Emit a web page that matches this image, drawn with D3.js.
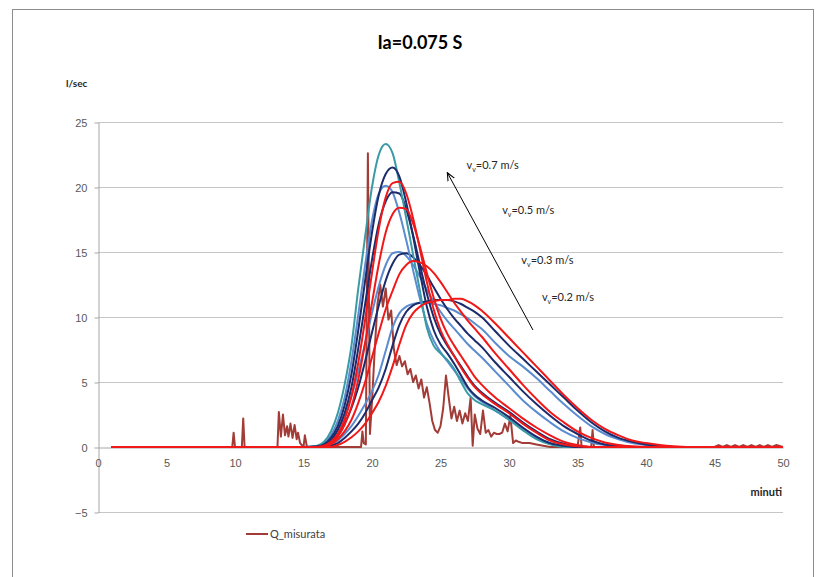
<!DOCTYPE html>
<html>
<head>
<meta charset="utf-8">
<script src="https://cdn.jsdelivr.net/npm/d3@7"></script>
<style>
  body { margin: 0; background: #fff; }
  svg { display: block; font-family: Lato, 'Open Sans', sans-serif; }
</style>
</head>
<body>
<div id="chart"></div>
<script>
const svgWidth = 821;
const svgHeight = 577;

// minutes shared by the simulated hydrographs
const minutes = [1, 15, 16, 16.5, 17, 17.5, 18, 18.5, 19, 19.5, 20, 20.5, 21, 21.5, 22, 22.5, 23, 23.5,
                 24, 24.5, 25, 25.5, 26, 26.5, 27, 27.5, 28, 29, 30, 31, 32, 33, 34, 35, 36, 37, 38,
                 39, 40, 41, 42, 43, 45, 50];

// vv = 0.7 m/s
const q07_teal = [0,0,0.1,0.4,1.2,2.6,4.8,7.8,12.2,16.2,20.0,22.5,23.3,22.6,20.3,17.6,14.8,12.0,9.2,7.8,7.2,6.7,6.0,5.0,4.1,3.6,3.3,2.8,2.1,1.3,0.6,0.2,0,0,0,0,0,0,0,0,0,0,0,0];
const q07_navy = [0,0,0.05,0.2,0.7,1.6,3.2,5.6,9.0,12.8,16.5,19.4,21.0,21.5,20.8,18.8,16.2,13.4,10.8,9.0,7.9,7.2,6.4,5.5,4.6,4.0,3.6,3.0,2.3,1.5,0.8,0.3,0.1,0,0,0,0,0,0,0,0,0,0,0];
const q07_red  = [0,0,0,0.1,0.4,1.0,2.1,3.9,6.5,9.8,13.4,16.8,19.2,20.3,20.4,19.5,17.6,15.2,12.7,10.6,9.0,7.9,7.0,6.1,5.3,4.6,4.1,3.3,2.6,1.8,1.1,0.5,0.2,0.05,0,0,0,0,0,0,0,0,0,0];
// vv = 0.5 m/s
const q05_blue = [0,0,0.05,0.3,0.9,2.0,3.8,6.6,10.2,14.0,17.4,19.5,20.1,19.6,18.0,15.9,13.6,11.4,9.5,8.2,7.3,6.6,5.9,5.2,4.5,3.9,3.5,2.8,2.1,1.4,0.7,0.3,0.1,0,0,0,0,0,0,0,0,0,0,0];
const q05_navy = [0,0,0,0.15,0.5,1.3,2.6,4.6,7.6,11.0,14.4,17.2,18.9,19.6,19.5,18.3,16.3,14.0,11.8,10.0,8.7,7.8,7.0,6.2,5.4,4.7,4.2,3.4,2.7,1.9,1.2,0.6,0.25,0.05,0,0,0,0,0,0,0,0,0,0];
const q05_red  = [0,0,0,0.05,0.3,0.8,1.7,3.1,5.2,8.0,11.1,14.1,16.5,17.9,18.4,18.3,17.2,15.4,13.4,11.5,9.9,8.7,7.8,7.0,6.2,5.4,4.8,3.8,3.0,2.2,1.5,0.9,0.4,0.15,0,0,0,0,0,0,0,0,0,0];
// vv = 0.3 m/s
const q03_blue = [0,0,0,0.2,0.6,1.3,2.4,3.9,5.8,8.0,10.3,12.4,14.0,14.9,15.0,14.7,14.0,13.1,12.1,11.2,10.4,9.7,9.1,8.5,7.9,7.4,6.9,5.8,4.7,3.6,2.7,1.9,1.2,0.7,0.35,0.15,0.05,0,0,0,0,0,0,0];
const q03_navy = [0,0,0,0.1,0.4,0.9,1.8,3.0,4.6,6.6,8.8,10.9,12.8,14.1,14.8,14.9,14.6,14.0,13.2,12.3,11.4,10.6,9.9,9.3,8.7,8.2,7.7,6.5,5.4,4.3,3.3,2.4,1.6,1.0,0.5,0.2,0.05,0,0,0,0,0,0,0];
const q03_red  = [0,0,0,0.05,0.2,0.6,1.2,2.1,3.4,5.0,6.9,8.8,10.6,12.0,13.3,14.0,14.3,14.2,13.9,13.4,12.7,11.9,11.1,10.4,9.7,9.1,8.5,7.2,6.0,4.8,3.7,2.7,1.9,1.2,0.7,0.35,0.15,0.05,0,0,0,0,0,0];
// vv = 0.2 m/s
const q02_blue = [0,0,0,0,0.2,0.5,1.0,1.6,2.4,3.3,4.3,5.6,7.4,9.2,10.3,10.8,11.0,11.1,11.1,11.0,10.9,10.7,10.5,10.2,9.9,9.5,9.1,8.0,7.0,6.2,5.3,4.3,3.3,2.4,1.6,1.0,0.6,0.3,0.15,0.05,0,0,0,0];
const q02_navy = [0,0,0,0,0.1,0.3,0.7,1.2,1.8,2.6,3.6,4.6,6.0,7.8,9.4,10.4,10.9,11.1,11.2,11.3,11.3,11.3,11.2,11.0,10.7,10.4,10.0,8.9,7.8,6.8,5.8,4.8,3.8,2.8,1.9,1.2,0.7,0.4,0.2,0.1,0,0,0,0];
const q02_red  = [0,0,0,0,0,0.15,0.4,0.75,1.2,1.8,2.6,3.5,4.7,6.2,7.9,9.4,10.3,10.8,11.1,11.2,11.3,11.3,11.4,11.4,11.2,10.9,10.5,9.5,8.4,7.3,6.2,5.1,4.0,3.0,2.1,1.4,0.9,0.5,0.3,0.15,0.05,0,0,0];

// measured discharge
const measT = [1, 9.8, 9.9, 10.0, 10.5, 10.6, 10.7, 13.1, 13.2, 13.35, 13.5, 13.65, 13.8, 13.9, 14.05, 14.2, 14.35, 14.5, 14.6, 14.75,
               15.0, 15.1, 15.25, 19.2, 19.3, 19.4, 19.55, 19.7, 19.85, 20.0, 20.2, 20.4, 20.6, 20.8, 21.0, 21.2, 21.4, 21.6, 21.8,
               22.0, 22.2, 22.4, 22.6, 22.8, 23.0, 23.2, 23.4, 23.6, 23.8, 24.0, 24.2, 24.4, 24.6, 24.8, 25.0, 25.2, 25.4, 25.6,
               25.8, 26.0, 26.2, 26.4, 26.6, 26.8, 27.0, 27.2, 27.35, 27.5, 27.7, 27.9, 28.1, 28.3, 28.5, 28.7, 28.9, 29.1, 29.3,
               29.5, 29.7, 29.9, 30.1, 30.3, 30.5, 30.7, 31.0, 31.5, 32.0, 32.5, 33.0, 35.0, 35.2, 35.3, 36.0, 36.1, 36.2,
               45.0, 45.3, 45.6, 45.9, 46.2, 46.5, 46.8, 47.1, 47.4, 47.7, 48.0, 48.3, 48.6, 48.9, 49.2, 49.5, 50];
const measQ = [0, 0, 1.1, 0, 0, 2.2, 0, 0, 2.7, 0.8, 2.5, 0.9, 1.6, 0.8, 1.8, 0.7, 1.7, 0.6, 1.1, 0.3,
               0, 0.9, 0, 0, 1.2, 0.3, 0.2, 22.6, 1.0, 3.5, 7.5, 11.0, 12.5, 10.8, 12.2, 9.8, 10.5, 7.5, 6.3,
               7.0, 6.2, 6.6, 5.6, 6.0, 5.0, 5.5, 4.5, 5.2, 3.8, 4.6, 3.4, 2.0, 1.3, 1.1, 1.6, 3.0, 5.5, 3.8,
               2.2, 3.1, 2.0, 2.8, 1.8, 2.6, 2.0, 3.8, 0.1, 2.5, 1.4, 1.0, 2.8, 1.1, 1.3, 0.8, 1.1, 1.0, 1.0,
               1.1, 1.8, 1.2, 2.4, 0.3, 0.5, 0.4, 0.3, 0.3, 0.2, 0.1, 0, 0, 1.5, 0, 0, 1.3, 0,
               0, 0.15, 0, 0.15, 0, 0.15, 0, 0.15, 0, 0.15, 0, 0.15, 0, 0.15, 0, 0.15, 0];

const yTicks = [-5, 0, 5, 10, 15, 20, 25];
const xTicks = [0, 5, 10, 15, 20, 25, 30, 35, 40, 45, 50];

const simulated = [
    { values: q02_blue, color: '#5b8ccf' },
    { values: q02_navy, color: '#1c2b6b' },
    { values: q03_blue, color: '#5b8ccf' },
    { values: q03_navy, color: '#1c2b6b' },
    { values: q05_blue, color: '#5b8ccf' },
    { values: q05_navy, color: '#1c2b6b' },
    { values: q07_teal, color: '#3a9aa6' },
    { values: q07_navy, color: '#1c2b6b' },
    { values: q02_red, color: '#f01818' },
    { values: q03_red, color: '#f01818' },
    { values: q05_red, color: '#f01818' },
    { values: q07_red, color: '#f01818' }
];

const svg = d3.select('#chart')
              .append('svg')
              .attr('width', svgWidth)
              .attr('height', svgHeight)

svg.append('rect')
   .attr('x', 12.5).attr('y', 9.5)
   .attr('width', 801).attr('height', 620)
   .attr('fill', '#fff')
   .attr('stroke', '#8c8c8c')

const x = d3.scaleLinear().domain([0, 50]).range([98, 783]);
const y = d3.scaleLinear().domain([-5, 25]).range([512, 122]);

// gridlines
svg.append('g')
   .selectAll('line')
   .data(yTicks.filter(d => d !== 0))
   .enter()
   .append('line')
   .attr('x1', x(0)).attr('x2', x(50))
   .attr('y1', d => y(d) + 0.5).attr('y2', d => y(d) + 0.5)
   .attr('stroke', '#c6c6c6')

const yAxis = d3.axisLeft(y).tickValues(yTicks).tickSize(4).tickSizeOuter(0).tickPadding(7);
const gy = svg.append('g')
              .attr('transform', `translate(${x(0) + 0.5},0.5)`)
              .call(yAxis)
gy.selectAll('line, path').attr('stroke', '#a6a6a6')
gy.selectAll('text').attr('fill', '#595959').style('font-size', '11px')

const xAxis = d3.axisBottom(x).tickValues(xTicks).tickSize(0).tickSizeOuter(0).tickPadding(12);
const gx = svg.append('g')
              .attr('transform', `translate(0,${y(0) + 0.5})`)
              .call(xAxis)
gx.selectAll('path').attr('stroke', '#a6a6a6')
gx.selectAll('text').attr('fill', '#595959').style('font-size', '11px')

const measLine = d3.line()
                   .x((d, i) => x(measT[i]))
                   .y(d => y(d));

svg.append('path')
   .datum(measQ)
   .attr('d', measLine)
   .attr('fill', 'none')
   .attr('stroke', '#a23c37')
   .attr('stroke-width', 2)
   .attr('stroke-linejoin', 'round')

const simLine = d3.line()
                  .x((d, i) => x(minutes[i]))
                  .y(d => y(d))
                  .curve(d3.curveMonotoneX);

svg.append('g')
   .selectAll('path')
   .data(simulated)
   .enter()
   .append('path')
   .attr('d', d => simLine(d.values))
   .attr('fill', 'none')
   .attr('stroke', d => d.color)
   .attr('stroke-width', 2)

// title and axis names
svg.append('text')
   .attr('x', 420).attr('y', 49)
   .attr('text-anchor', 'middle')
   .style('font-size', '18px').style('font-weight', 'bold')
   .attr('fill', '#000')
   .text('Ia=0.075 S')

svg.append('text')
   .attr('x', 66).attr('y', 87)
   .style('font-size', '10px').style('font-weight', 'bold')
   .attr('fill', '#262626')
   .text('l/sec')

svg.append('text')
   .attr('x', 782).attr('y', 496)
   .attr('text-anchor', 'end')
   .style('font-size', '11px').style('font-weight', 'bold')
   .attr('fill', '#262626')
   .text('minuti')

// velocity labels
const velocityLabels = ['0.7', '0.5', '0.3', '0.2'];
const labelPos = [[26.9, 21.4], [29.5, 17.9], [30.9, 14.1], [32.4, 11.2]];

const lab = svg.append('g')
               .selectAll('text')
               .data(velocityLabels)
               .enter()
               .append('text')
               .attr('x', (d, i) => x(labelPos[i][0]))
               .attr('y', (d, i) => y(labelPos[i][1]))
               .style('font-size', '11px')
               .attr('fill', '#262626')
lab.append('tspan').text('v')
lab.append('tspan').attr('dy', 3).style('font-size', '7px').text('v')
lab.append('tspan').attr('dy', -3).text(d => `=${d} m/s`)

svg.append('defs')
   .append('marker')
   .attr('id', 'arrow')
   .attr('viewBox', '0 0 10 10')
   .attr('refX', 9).attr('refY', 5)
   .attr('markerWidth', 9).attr('markerHeight', 9)
   .attr('orient', 'auto')
   .append('path')
   .attr('d', 'M0,1 L9,5 L0,9')
   .attr('fill', 'none')
   .attr('stroke', '#000')
   .attr('stroke-width', 1.2)

svg.append('line')
   .attr('x1', x(31.75)).attr('y1', y(9.0))
   .attr('x2', x(25.5)).attr('y2', y(21.1))
   .attr('stroke', '#000')
   .attr('stroke-width', 1)
   .attr('marker-end', 'url(#arrow)')

// legend
svg.append('line')
   .attr('x1', 246).attr('x2', 268)
   .attr('y1', 534).attr('y2', 534)
   .attr('stroke', '#a23c37')
   .attr('stroke-width', 2)

svg.append('text')
   .attr('x', 270).attr('y', 538)
   .style('font-size', '11px')
   .attr('fill', '#404040')
   .text('Q_misurata')
</script>
</body>
</html>
